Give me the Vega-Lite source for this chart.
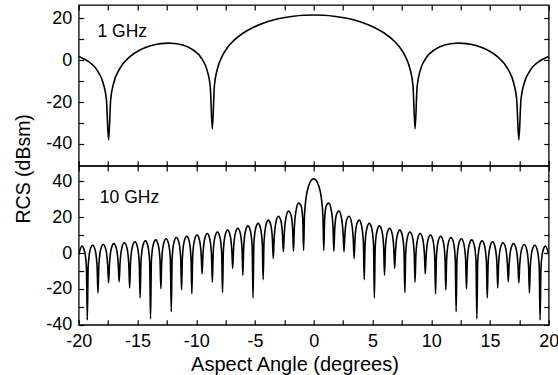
{
  "$schema": "https://vega.github.io/schema/vega-lite/v6.json",
  "padding": {"left": 12.7, "top": 3, "right": 0, "bottom": 0},
  "spacing": 0,
  "bounds": "flush",
  "config": {
    "font": "Liberation Sans",
    "view": {"stroke": "black", "strokeWidth": 1.3},
    "axis": {"grid": false, "domain": false, "tickColor": "black", "tickWidth": 1.2, "tickSize": -5, "labelColor": "black", "labelFont": "Liberation Sans", "labelFontSize": 18, "titleColor": "black", "titleFont": "Liberation Sans", "titleFontSize": 19.5, "titleFontWeight": "normal", "labelOverlap": false, "labelFlush": false}
  },
  "datasets": {
    "f1": [
      {"angle":-20,"rcs":1.73},{"angle":-19.725,"rcs":1.1},{"angle":-19.268,"rcs":-0.27},{"angle":-18.361,"rcs":-5.43},{"angle":-17.909,"rcs":-11.1},{"angle":-17.638,"rcs":-18.9},{"angle":-17.458,"rcs":-38.1},{"angle":-17.277,"rcs":-18.7},{"angle":-17.008,"rcs":-10.65},{"angle":-16.558,"rcs":-4.49},{"angle":-15.664,"rcs":1.61},{"angle":-14.773,"rcs":4.92},{"angle":-13.886,"rcs":6.88},{"angle":-13.003,"rcs":7.91},{"angle":-12.386,"rcs":8.13},{"angle":-12.122,"rcs":8.1},{"angle":-11.245,"rcs":7.37},{"angle":-10.37,"rcs":5.31},{"angle":-9.497,"rcs":0.51},{"angle":-9.062,"rcs":-4.99},{"angle":-8.801,"rcs":-12.66},{"angle":-8.627,"rcs":-32.8},{"angle":-8.453,"rcs":-12.3},{"angle":-8.193,"rcs":-4.09},{"angle":-7.759,"rcs":2.28},{"angle":-7.325,"rcs":6.14},{"angle":-6.892,"rcs":8.92},{"angle":-6.027,"rcs":12.86},{"angle":-5.164,"rcs":15.62},{"angle":-4.301,"rcs":17.65},{"angle":-3.44,"rcs":19.16},{"angle":-2.579,"rcs":20.26},{"angle":-1.719,"rcs":21.01},{"angle":-0.859,"rcs":21.46},
      {"angle":0,"rcs":21.6},
      {"angle":0.859,"rcs":21.46},{"angle":1.719,"rcs":21.01},{"angle":2.579,"rcs":20.26},{"angle":3.44,"rcs":19.16},{"angle":4.301,"rcs":17.65},{"angle":5.164,"rcs":15.62},{"angle":6.027,"rcs":12.86},{"angle":6.892,"rcs":8.92},{"angle":7.325,"rcs":6.14},{"angle":7.759,"rcs":2.28},{"angle":8.193,"rcs":-4.09},{"angle":8.453,"rcs":-12.3},{"angle":8.627,"rcs":-32.8},{"angle":8.801,"rcs":-12.66},{"angle":9.062,"rcs":-4.99},{"angle":9.497,"rcs":0.51},{"angle":10.37,"rcs":5.31},{"angle":11.245,"rcs":7.37},{"angle":12.122,"rcs":8.1},{"angle":12.386,"rcs":8.13},{"angle":13.003,"rcs":7.91},{"angle":13.886,"rcs":6.88},{"angle":14.773,"rcs":4.92},{"angle":15.664,"rcs":1.61},{"angle":16.558,"rcs":-4.49},{"angle":17.008,"rcs":-10.65},{"angle":17.277,"rcs":-18.7},{"angle":17.458,"rcs":-38.1},{"angle":17.638,"rcs":-18.9},{"angle":17.909,"rcs":-11.1},{"angle":18.361,"rcs":-5.43},{"angle":19.268,"rcs":-0.27},{"angle":19.725,"rcs":1.1},{"angle":20,"rcs":1.73}
    ],
    "f10": [
      {"angle":-20,"rcs":-0.8},{"angle":-19.724,"rcs":3.9},{"angle":-19.496,"rcs":0.9},{"angle":-19.344,"rcs":-7.8},{"angle":-19.268,"rcs":-37.3},
      {"angle":-19.193,"rcs":-7.4},{"angle":-19.041,"rcs":1.4},{"angle":-18.815,"rcs":4.4},{"angle":-18.588,"rcs":1.4},{"angle":-18.436,"rcs":-7.4},{"angle":-18.361,"rcs":-22.3},
      {"angle":-18.285,"rcs":-6.9},{"angle":-18.135,"rcs":1.8},{"angle":-17.909,"rcs":4.8},{"angle":-17.683,"rcs":1.8},{"angle":-17.532,"rcs":-6.9},{"angle":-17.457,"rcs":-16.6},
      {"angle":-17.382,"rcs":-6.4},{"angle":-17.232,"rcs":2.3},{"angle":-17.008,"rcs":5.3},{"angle":-16.783,"rcs":2.3},{"angle":-16.633,"rcs":-6.4},{"angle":-16.558,"rcs":-16.0},
      {"angle":-16.484,"rcs":-5.9},{"angle":-16.335,"rcs":2.8},{"angle":-16.111,"rcs":5.8},{"angle":-15.888,"rcs":2.8},{"angle":-15.739,"rcs":-5.9},{"angle":-15.664,"rcs":-19.4},
      {"angle":-15.59,"rcs":-5.4},{"angle":-15.441,"rcs":3.3},{"angle":-15.219,"rcs":6.3},{"angle":-14.996,"rcs":3.3},{"angle":-14.848,"rcs":-5.4},{"angle":-14.773,"rcs":-25.0},
      {"angle":-14.7,"rcs":-4.9},{"angle":-14.552,"rcs":3.8},{"angle":-14.33,"rcs":6.8},{"angle":-14.108,"rcs":3.8},{"angle":-13.96,"rcs":-4.9},{"angle":-13.886,"rcs":-36.7},
      {"angle":-13.813,"rcs":-4.3},{"angle":-13.666,"rcs":4.4},{"angle":-13.445,"rcs":7.4},{"angle":-13.224,"rcs":4.4},{"angle":-13.077,"rcs":-4.3},{"angle":-13.003,"rcs":-19.9},
      {"angle":-12.93,"rcs":-3.7},{"angle":-12.783,"rcs":5.0},{"angle":-12.563,"rcs":8.0},{"angle":-12.343,"rcs":5.0},{"angle":-12.196,"rcs":-3.7},{"angle":-12.122,"rcs":-32.7},
      {"angle":-12.049,"rcs":-3.1},{"angle":-11.903,"rcs":5.7},{"angle":-11.684,"rcs":8.7},{"angle":-11.464,"rcs":5.7},{"angle":-11.318,"rcs":-3.1},{"angle":-11.245,"rcs":-20.5},
      {"angle":-11.172,"rcs":-2.4},{"angle":-11.026,"rcs":6.4},{"angle":-10.807,"rcs":9.4},{"angle":-10.589,"rcs":6.4},{"angle":-10.443,"rcs":-2.4},{"angle":-10.37,"rcs":-22.7},
      {"angle":-10.297,"rcs":-1.6},{"angle":-10.152,"rcs":7.1},{"angle":-9.934,"rcs":10.1},{"angle":-9.715,"rcs":7.1},{"angle":-9.57,"rcs":-1.6},{"angle":-9.497,"rcs":-11.5},
      {"angle":-9.425,"rcs":-0.8},{"angle":-9.28,"rcs":7.9},{"angle":-9.062,"rcs":10.9},{"angle":-8.845,"rcs":7.9},{"angle":-8.7,"rcs":-0.8},{"angle":-8.627,"rcs":-16.2},
      {"angle":-8.555,"rcs":0.1},{"angle":-8.41,"rcs":8.8},{"angle":-8.193,"rcs":11.8},{"angle":-7.976,"rcs":8.8},{"angle":-7.831,"rcs":0.1},{"angle":-7.759,"rcs":-22.0},
      {"angle":-7.686,"rcs":1.1},{"angle":-7.542,"rcs":9.8},{"angle":-7.325,"rcs":12.8},{"angle":-7.109,"rcs":9.8},{"angle":-6.964,"rcs":1.1},{"angle":-6.892,"rcs":-8.5},
      {"angle":-6.82,"rcs":2.2},{"angle":-6.676,"rcs":10.9},{"angle":-6.46,"rcs":13.9},{"angle":-6.243,"rcs":10.9},{"angle":-6.099,"rcs":2.2},{"angle":-6.027,"rcs":-12.4},
      {"angle":-5.955,"rcs":3.5},{"angle":-5.811,"rcs":12.2},{"angle":-5.595,"rcs":15.2},{"angle":-5.38,"rcs":12.2},{"angle":-5.236,"rcs":3.5},{"angle":-5.164,"rcs":-25.0},
      {"angle":-5.092,"rcs":4.9},{"angle":-4.948,"rcs":13.6},{"angle":-4.732,"rcs":16.6},{"angle":-4.517,"rcs":13.6},{"angle":-4.373,"rcs":4.9},{"angle":-4.301,"rcs":-14.8},
      {"angle":-4.229,"rcs":5.9},{"angle":-4.086,"rcs":14.9},{"angle":-3.871,"rcs":18.4},{"angle":-3.655,"rcs":15.9},{"angle":-3.512,"rcs":7.5},{"angle":-3.44,"rcs":-3.0},
      {"angle":-3.368,"rcs":7.8},{"angle":-3.225,"rcs":16.9},{"angle":-3.01,"rcs":20.6},{"angle":-2.794,"rcs":18.2},{"angle":-2.651,"rcs":9.9},{"angle":-2.579,"rcs":0.8},
      {"angle":-2.508,"rcs":10.4},{"angle":-2.364,"rcs":19.7},{"angle":-2.149,"rcs":23.5},{"angle":-1.934,"rcs":21.4},{"angle":-1.791,"rcs":13.3},{"angle":-1.719,"rcs":1.0},
      {"angle":-1.647,"rcs":14.0},{"angle":-1.504,"rcs":23.6},{"angle":-1.289,"rcs":27.9},{"angle":-1.074,"rcs":26.5},{"angle":-0.931,"rcs":19.0},{"angle":-0.859,"rcs":1.5},
      {"angle":-0.788,"rcs":20.5},{"angle":-0.645,"rcs":30.95},{"angle":-0.43,"rcs":37.5},{"angle":-0.215,"rcs":40.5},
      {"angle":0,"rcs":41.4},
      {"angle":0.215,"rcs":40.5},{"angle":0.43,"rcs":37.5},{"angle":0.645,"rcs":30.95},{"angle":0.788,"rcs":20.5},{"angle":0.859,"rcs":1.5},
      {"angle":0.931,"rcs":19.0},{"angle":1.074,"rcs":26.5},{"angle":1.289,"rcs":27.9},{"angle":1.504,"rcs":23.6},{"angle":1.647,"rcs":14.0},{"angle":1.719,"rcs":1.0},
      {"angle":1.791,"rcs":13.3},{"angle":1.934,"rcs":21.4},{"angle":2.149,"rcs":23.5},{"angle":2.364,"rcs":19.7},{"angle":2.508,"rcs":10.4},{"angle":2.579,"rcs":0.8},
      {"angle":2.651,"rcs":9.9},{"angle":2.794,"rcs":18.2},{"angle":3.01,"rcs":20.6},{"angle":3.225,"rcs":16.9},{"angle":3.368,"rcs":7.8},{"angle":3.44,"rcs":-3.0},
      {"angle":3.512,"rcs":7.5},{"angle":3.655,"rcs":15.9},{"angle":3.871,"rcs":18.4},{"angle":4.086,"rcs":14.9},{"angle":4.229,"rcs":5.9},{"angle":4.301,"rcs":-14.8},
      {"angle":4.373,"rcs":4.9},{"angle":4.517,"rcs":13.6},{"angle":4.732,"rcs":16.6},{"angle":4.948,"rcs":13.6},{"angle":5.092,"rcs":4.9},{"angle":5.164,"rcs":-25.0},
      {"angle":5.236,"rcs":3.5},{"angle":5.38,"rcs":12.2},{"angle":5.595,"rcs":15.2},{"angle":5.811,"rcs":12.2},{"angle":5.955,"rcs":3.5},{"angle":6.027,"rcs":-12.4},
      {"angle":6.099,"rcs":2.2},{"angle":6.243,"rcs":10.9},{"angle":6.46,"rcs":13.9},{"angle":6.676,"rcs":10.9},{"angle":6.82,"rcs":2.2},{"angle":6.892,"rcs":-8.5},
      {"angle":6.964,"rcs":1.1},{"angle":7.109,"rcs":9.8},{"angle":7.325,"rcs":12.8},{"angle":7.542,"rcs":9.8},{"angle":7.686,"rcs":1.1},{"angle":7.759,"rcs":-22.0},
      {"angle":7.831,"rcs":0.1},{"angle":7.976,"rcs":8.8},{"angle":8.193,"rcs":11.8},{"angle":8.41,"rcs":8.8},{"angle":8.555,"rcs":0.1},{"angle":8.627,"rcs":-16.2},
      {"angle":8.7,"rcs":-0.8},{"angle":8.845,"rcs":7.9},{"angle":9.062,"rcs":10.9},{"angle":9.28,"rcs":7.9},{"angle":9.425,"rcs":-0.8},{"angle":9.497,"rcs":-11.5},
      {"angle":9.57,"rcs":-1.6},{"angle":9.715,"rcs":7.1},{"angle":9.934,"rcs":10.1},{"angle":10.152,"rcs":7.1},{"angle":10.297,"rcs":-1.6},{"angle":10.37,"rcs":-22.7},
      {"angle":10.443,"rcs":-2.4},{"angle":10.589,"rcs":6.4},{"angle":10.807,"rcs":9.4},{"angle":11.026,"rcs":6.4},{"angle":11.172,"rcs":-2.4},{"angle":11.245,"rcs":-20.5},
      {"angle":11.318,"rcs":-3.1},{"angle":11.464,"rcs":5.7},{"angle":11.684,"rcs":8.7},{"angle":11.903,"rcs":5.7},{"angle":12.049,"rcs":-3.1},{"angle":12.122,"rcs":-32.7},
      {"angle":12.196,"rcs":-3.7},{"angle":12.343,"rcs":5.0},{"angle":12.563,"rcs":8.0},{"angle":12.783,"rcs":5.0},{"angle":12.93,"rcs":-3.7},{"angle":13.003,"rcs":-19.9},
      {"angle":13.077,"rcs":-4.3},{"angle":13.224,"rcs":4.4},{"angle":13.445,"rcs":7.4},{"angle":13.666,"rcs":4.4},{"angle":13.813,"rcs":-4.3},{"angle":13.886,"rcs":-36.7},
      {"angle":13.96,"rcs":-4.9},{"angle":14.108,"rcs":3.8},{"angle":14.33,"rcs":6.8},{"angle":14.552,"rcs":3.8},{"angle":14.7,"rcs":-4.9},{"angle":14.773,"rcs":-25.0},
      {"angle":14.848,"rcs":-5.4},{"angle":14.996,"rcs":3.3},{"angle":15.219,"rcs":6.3},{"angle":15.441,"rcs":3.3},{"angle":15.59,"rcs":-5.4},{"angle":15.664,"rcs":-19.4},
      {"angle":15.739,"rcs":-5.9},{"angle":15.888,"rcs":2.8},{"angle":16.111,"rcs":5.8},{"angle":16.335,"rcs":2.8},{"angle":16.484,"rcs":-5.9},{"angle":16.558,"rcs":-16.0},
      {"angle":16.633,"rcs":-6.4},{"angle":16.783,"rcs":2.3},{"angle":17.008,"rcs":5.3},{"angle":17.232,"rcs":2.3},{"angle":17.382,"rcs":-6.4},{"angle":17.457,"rcs":-16.6},
      {"angle":17.532,"rcs":-6.9},{"angle":17.683,"rcs":1.8},{"angle":17.909,"rcs":4.8},{"angle":18.135,"rcs":1.8},{"angle":18.285,"rcs":-6.9},{"angle":18.361,"rcs":-22.3},
      {"angle":18.436,"rcs":-7.4},{"angle":18.588,"rcs":1.4},{"angle":18.815,"rcs":4.4},{"angle":19.041,"rcs":1.4},{"angle":19.193,"rcs":-7.4},{"angle":19.268,"rcs":-37.3},
      {"angle":19.344,"rcs":-7.8},{"angle":19.496,"rcs":0.9},{"angle":19.724,"rcs":3.9},{"angle":20,"rcs":-0.8}
    ]
  },
  "vconcat": [
    {
      "width": 470,
      "height": 160.7,
      "resolve": {"axis": {"x": "independent", "y": "independent"}},
      "layer": [
        {
          "data": {"name": "f1"},
          "mark": {"type": "line", "color": "black", "strokeWidth": 1.6, "interpolate": "monotone", "clip": true},
          "encoding": {
            "x": {"field": "angle", "type": "quantitative", "scale": {"domain": [-20, 20], "nice": false, "zero": false},
              "axis": {"orient": "bottom", "values": [-20,-17.5,-15,-12.5,-10,-7.5,-5,-2.5,0,2.5,5,7.5,10,12.5,15,17.5,20], "labels": false, "title": null}},
            "y": {"field": "rcs", "type": "quantitative", "scale": {"domain": [-50.36, 26.35], "nice": false, "zero": false},
              "axis": {"orient": "left", "values": [-40,-30,-20,-10,0,10,20], "labelExpr": "datum.value % 20 === 0 ? '' + datum.value : ''", "labelPadding": 12,
                "title": "RCS (dBsm)", "titleX": -48.7, "titleY": 163.3, "titleAngle": -90, "titleBaseline": "alphabetic", "titleAlign": "center"}}
          }
        },
        {
          "data": {"values": [{"label": "1 GHz"}]},
          "mark": {"type": "text", "align": "left", "baseline": "alphabetic", "fontSize": 17.5, "color": "black", "font": "Liberation Sans"},
          "encoding": {
            "text": {"field": "label"},
            "x": {"datum": -18.4, "axis": {"orient": "top", "values": [-20,-17.5,-15,-12.5,-10,-7.5,-5,-2.5,0,2.5,5,7.5,10,12.5,15,17.5,20], "labels": false, "title": null}},
            "y": {"datum": 11.2, "axis": {"orient": "right", "values": [-40,-30,-20,-10,0,10,20], "labels": false, "title": null}}
          }
        }
      ]
    },
    {
      "width": 470,
      "height": 158.8,
      "resolve": {"axis": {"x": "independent", "y": "independent"}},
      "layer": [
        {
          "data": {"name": "f10"},
          "mark": {"type": "line", "color": "black", "strokeWidth": 1.6, "interpolate": "monotone", "clip": true},
          "encoding": {
            "x": {"field": "angle", "type": "quantitative", "scale": {"domain": [-20, 20], "nice": false, "zero": false},
              "axis": {"orient": "bottom", "values": [-20,-17.5,-15,-12.5,-10,-7.5,-5,-2.5,0,2.5,5,7.5,10,12.5,15,17.5,20], "labelExpr": "datum.value % 5 === 0 ? '' + datum.value : ''", "labelPadding": 13,
                "title": "Aspect Angle (degrees)", "titleFontSize": 20, "titleX": 215.8, "titleY": 45.5, "titleBaseline": "alphabetic", "titleAlign": "center", "titleAnchor": "start"}},
            "y": {"field": "rcs", "type": "quantitative", "scale": {"domain": [-40, 48.6], "nice": false, "zero": false},
              "axis": {"orient": "left", "values": [-40,-30,-20,-10,0,10,20,30,40], "labelExpr": "datum.value % 20 === 0 ? '' + datum.value : ''", "labelPadding": 12, "title": null}}
          }
        },
        {
          "data": {"values": [{"label": "10 GHz"}]},
          "mark": {"type": "text", "align": "left", "baseline": "alphabetic", "fontSize": 17.5, "color": "black", "font": "Liberation Sans"},
          "encoding": {
            "text": {"field": "label"},
            "x": {"datum": -18.2, "axis": {"orient": "top", "values": [-20,-17.5,-15,-12.5,-10,-7.5,-5,-2.5,0,2.5,5,7.5,10,12.5,15,17.5,20], "labels": false, "title": null}},
            "y": {"datum": 28.1, "axis": {"orient": "right", "values": [-40,-30,-20,-10,0,10,20,30,40], "labels": false, "title": null}}
          }
        }
      ]
    }
  ]
}
